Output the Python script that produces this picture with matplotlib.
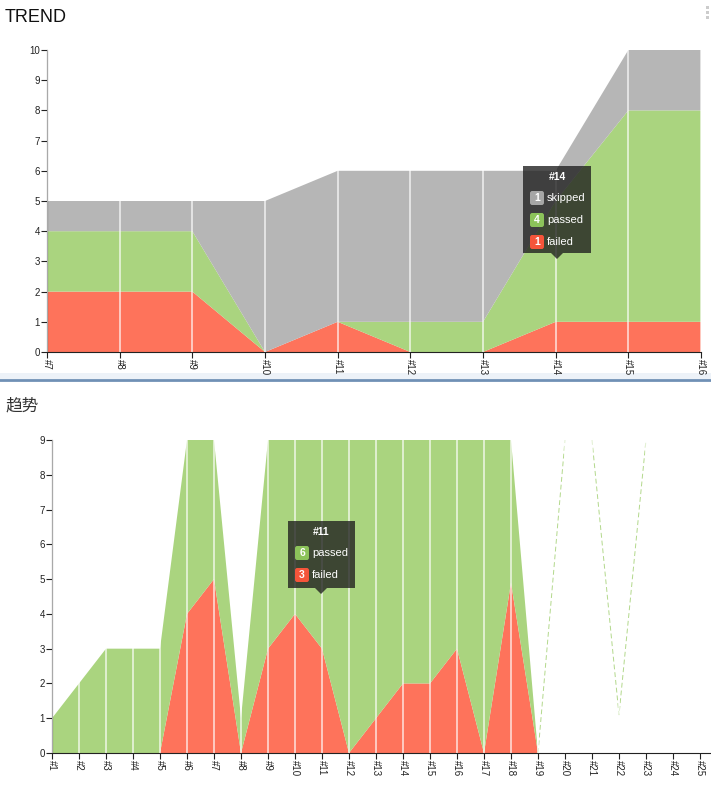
import matplotlib.pyplot as plt
from matplotlib.patches import Rectangle, FancyBboxPatch, Polygon
from matplotlib.lines import Line2D

plt.rcParams['font.family'] = ['Liberation Sans', 'Noto Sans CJK SC', 'DejaVu Sans']

# 上のチャート (TREND)
builds1 = ['#7', '#8', '#9', '#10', '#11', '#12', '#13', '#14', '#15', '#16']
failed1 = [2, 2, 2, 0, 1, 0, 0, 1, 1, 1]
passed1 = [2, 2, 2, 0, 0, 1, 1, 4, 7, 7]
skipped1 = [1, 1, 1, 5, 5, 5, 5, 1, 2, 2]

# 下のチャート (趋势)
builds2 = ['#%d' % i for i in range(1, 26)]
failed2 = [0, 0, 0, 0, 0, 4, 5, 0, 3, 4, 3, 0, 1, 2, 2, 3, 0, 4.9, 0]
passed2 = [1, 2, 3, 3, 3, 5, 4, 1, 6, 5, 6, 9, 8, 7, 7, 6, 9, 4.1, 0]
# 細い破線 (#19-#20, #21-#23)
ghost_x = [[18, 19], [20, 21, 22]]
ghost_y = [[0, 9], [9, 1.1, 9]]

RED = '#fe735b'
GREEN = '#aad47f'
GRAY = '#b6b6b6'

W, H = 711, 785
fig = plt.figure(figsize=(W / 100, H / 100), dpi=100)


def fx(px):
    return px / W


def fy(py):
    return 1 - py / H


def style_axes(ax, ymax, labels):
    for s in ['top', 'right']:
        ax.spines[s].set_visible(False)
    ax.spines['left'].set_color('#222222')
    ax.spines['bottom'].set_color('#222222')
    ax.set_ylim(0, ymax)
    ax.set_yticks(range(0, ymax + 1))
    ax.set_xticks(range(len(labels)))
    ax.set_xticklabels(labels, rotation=-90)
    ax.tick_params(labelsize=7, length=4, width=0.8, colors='#222222', pad=1)
    for x in range(len(labels)):
        ax.axvline(x, color='white', lw=1.1, alpha=0.8, zorder=3)


# 区切り線
fig.add_artist(Rectangle((0, fy(379)), 1, fy(373) - fy(379), transform=fig.transFigure,
                         color='#edf2f8', lw=0, zorder=-5))
fig.add_artist(Line2D([0, 1], [fy(380), fy(380)], transform=fig.transFigure,
                      color='#7090b5', lw=2, zorder=-4))

# TREND
ax1 = fig.add_axes([fx(47), fy(352), fx(701) - fx(47), fy(50) - fy(352)])
ax1.patch.set_alpha(0)
x1 = list(range(len(builds1)))
ax1.stackplot(x1, failed1, passed1, skipped1, colors=[RED, GREEN, GRAY], lw=0)
ax1.set_xlim(0, len(builds1) - 1)
style_axes(ax1, 10, builds1)
fig.text(fx(5), fy(18), 'TREND', fontsize=13, va='center', ha='left', color='#111111')

# 趋势
ax2 = fig.add_axes([fx(52), fy(753), fx(711) - fx(52), fy(440) - fy(753)])
ax2.patch.set_alpha(0)
x2 = list(range(len(failed2)))
ax2.stackplot(x2, failed2, passed2, colors=[RED, GREEN], lw=0)
for gx, gy in zip(ghost_x, ghost_y):
    ax2.plot(gx, gy, color=GREEN, lw=0.7, ls=(0, (5, 3)), alpha=0.9)
ax2.set_xlim(0, 24 + 11 / 27)
style_axes(ax2, 9, builds2)
fig.text(fx(5), fy(406), '趋势', fontsize=12, va='center', ha='left', color='#333333',
         family=['Noto Sans CJK SC', 'DejaVu Sans'])

# 右上のメニュー
for py in [7, 12, 17]:
    fig.add_artist(Rectangle((fx(706), fy(py + 2)), fx(3), fy(0) - fy(3), transform=fig.transFigure,
                             color='#cccccc', lw=0))


def tooltip(left, top, right, bottom, tip_x, title, rows):
    fig.add_artist(Rectangle((fx(left), fy(bottom)), fx(right) - fx(left), fy(top) - fy(bottom),
                             transform=fig.transFigure, color='#1e1e1e', alpha=0.78, lw=0, zorder=10))
    fig.add_artist(Polygon([(fx(tip_x - 6), fy(bottom)), (fx(tip_x + 6), fy(bottom)),
                            (fx(tip_x), fy(bottom + 6))], transform=fig.transFigure,
                           color='#1e1e1e', alpha=0.78, lw=0, zorder=10))
    fig.text(fx((left + right) / 2), fy(top + 11), title, color='white', fontsize=7.5,
             fontweight='bold', ha='center', va='center', zorder=11)
    y = top + 32
    for val, name, col in rows:
        fig.add_artist(FancyBboxPatch((fx(left + 7), fy(y + 7)), fx(14), fy(0) - fy(14),
                                      boxstyle='round,pad=0,rounding_size=0.003',
                                      transform=fig.transFigure, color=col, lw=0, zorder=11))
        fig.text(fx(left + 14), fy(y), str(val), color='white', fontsize=7.5,
                 ha='center', va='center', fontweight='bold', zorder=12)
        fig.text(fx(left + 24), fy(y), name, color='white', fontsize=8,
                 ha='left', va='center', zorder=12)
        y += 22


tooltip(523, 166, 591, 253, 557, '#14',
        [(1, 'skipped', '#a6a6a6'), (4, 'passed', '#8cc35a'), (1, 'failed', '#f5553a')])
tooltip(288, 521, 355, 588, 321, '#11',
        [(6, 'passed', '#8cc35a'), (3, 'failed', '#f5553a')])

plt.savefig('out.png', dpi=100)
